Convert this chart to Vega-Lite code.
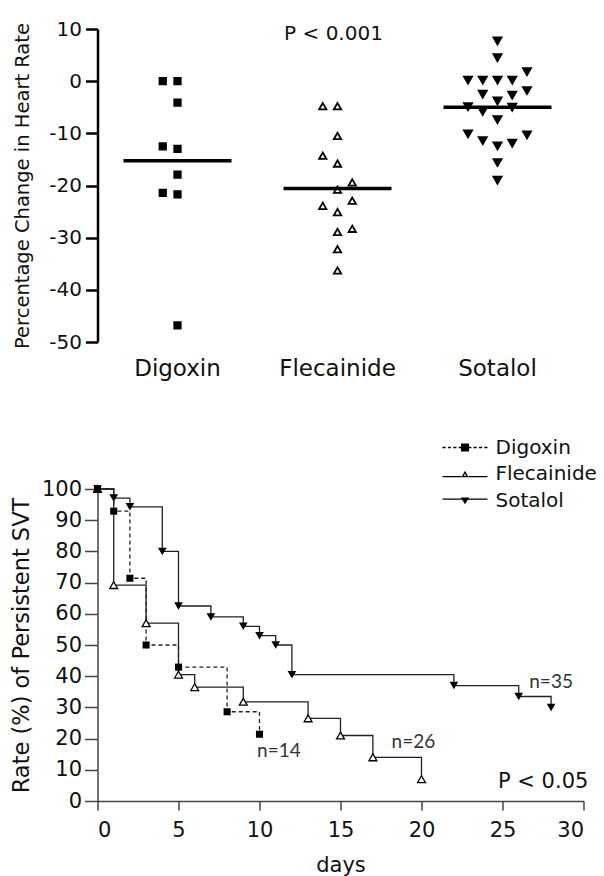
{
  "$schema": "https://vega.github.io/schema/vega-lite/v6.json",
  "background": "white",
  "padding": {"left": 9.5, "top": 19, "right": 5, "bottom": 5},
  "bounds": "flush",
  "spacing": 147,
  "resolve": {
    "scale": {"shape": "independent", "fill": "independent", "size": "independent", "strokeDash": "independent"},
    "legend": {"shape": "independent", "fill": "independent", "size": "independent", "strokeDash": "independent"}
  },
  "config": {
    "view": {"stroke": null},
    "font": "DejaVu Sans",
    "axis": {"grid": false, "labelOverlap": false, "titleFontWeight": "normal", "labelColor": "#111", "titleColor": "#111", "labelFont": "DejaVu Sans", "titleFont": "DejaVu Sans"}
  },
  "datasets": {
    "hr": [
      {"drug": "Digoxin", "col": -1, "change": 0},
      {"drug": "Digoxin", "col": 0, "change": 0},
      {"drug": "Digoxin", "col": 0, "change": -4.1},
      {"drug": "Digoxin", "col": -1, "change": -12.5},
      {"drug": "Digoxin", "col": 0, "change": -13},
      {"drug": "Digoxin", "col": 0, "change": -17.9},
      {"drug": "Digoxin", "col": -1, "change": -21.4},
      {"drug": "Digoxin", "col": 0, "change": -21.7},
      {"drug": "Digoxin", "col": 0, "change": -46.8},
      {"drug": "Flecainide", "col": -1, "change": -4.8},
      {"drug": "Flecainide", "col": 0, "change": -4.8},
      {"drug": "Flecainide", "col": 0, "change": -10.5},
      {"drug": "Flecainide", "col": -1, "change": -14.3},
      {"drug": "Flecainide", "col": 0, "change": -15.8},
      {"drug": "Flecainide", "col": 1, "change": -19.4},
      {"drug": "Flecainide", "col": 0, "change": -20.8},
      {"drug": "Flecainide", "col": 1, "change": -22.9},
      {"drug": "Flecainide", "col": -1, "change": -23.9},
      {"drug": "Flecainide", "col": 0, "change": -25.1},
      {"drug": "Flecainide", "col": 1, "change": -28.3},
      {"drug": "Flecainide", "col": 0, "change": -28.9},
      {"drug": "Flecainide", "col": 0, "change": -32.2},
      {"drug": "Flecainide", "col": 0, "change": -36.3},
      {"drug": "Sotalol", "col": 0, "change": 7.7},
      {"drug": "Sotalol", "col": 0, "change": 4.5},
      {"drug": "Sotalol", "col": 2, "change": 1.8},
      {"drug": "Sotalol", "col": -2, "change": 0.2},
      {"drug": "Sotalol", "col": -1, "change": 0.2},
      {"drug": "Sotalol", "col": 0, "change": 0.2},
      {"drug": "Sotalol", "col": 1, "change": 0.2},
      {"drug": "Sotalol", "col": 2, "change": -1.8},
      {"drug": "Sotalol", "col": -1, "change": -2.5},
      {"drug": "Sotalol", "col": 1, "change": -2.7},
      {"drug": "Sotalol", "col": 0, "change": -3.8},
      {"drug": "Sotalol", "col": -2, "change": -4.9},
      {"drug": "Sotalol", "col": -1, "change": -5.8},
      {"drug": "Sotalol", "col": 1, "change": -5.0},
      {"drug": "Sotalol", "col": 0, "change": -7.4},
      {"drug": "Sotalol", "col": -2, "change": -10.1},
      {"drug": "Sotalol", "col": 2, "change": -10.3},
      {"drug": "Sotalol", "col": -1, "change": -11.4},
      {"drug": "Sotalol", "col": 1, "change": -11.9},
      {"drug": "Sotalol", "col": 0, "change": -12.4},
      {"drug": "Sotalol", "col": 0, "change": -15.6},
      {"drug": "Sotalol", "col": 0, "change": -19.0}
    ],
    "km": [
      {"drug": "Digoxin", "day": 0, "rate": 100},
      {"drug": "Digoxin", "day": 1, "rate": 92.9},
      {"drug": "Digoxin", "day": 2, "rate": 71.4},
      {"drug": "Digoxin", "day": 3, "rate": 50},
      {"drug": "Digoxin", "day": 5, "rate": 42.9},
      {"drug": "Digoxin", "day": 8, "rate": 28.6},
      {"drug": "Digoxin", "day": 10, "rate": 21.4},
      {"drug": "Flecainide", "day": 0, "rate": 100},
      {"drug": "Flecainide", "day": 1, "rate": 69.2},
      {"drug": "Flecainide", "day": 3, "rate": 57},
      {"drug": "Flecainide", "day": 5, "rate": 40.5},
      {"drug": "Flecainide", "day": 6, "rate": 36.5},
      {"drug": "Flecainide", "day": 9, "rate": 31.8},
      {"drug": "Flecainide", "day": 13, "rate": 26.5},
      {"drug": "Flecainide", "day": 15, "rate": 21},
      {"drug": "Flecainide", "day": 17, "rate": 14},
      {"drug": "Flecainide", "day": 20, "rate": 7},
      {"drug": "Sotalol", "day": 0, "rate": 100},
      {"drug": "Sotalol", "day": 1, "rate": 97.1},
      {"drug": "Sotalol", "day": 2, "rate": 94.3},
      {"drug": "Sotalol", "day": 4, "rate": 80},
      {"drug": "Sotalol", "day": 5, "rate": 62.5},
      {"drug": "Sotalol", "day": 7, "rate": 59},
      {"drug": "Sotalol", "day": 9, "rate": 56},
      {"drug": "Sotalol", "day": 10, "rate": 53},
      {"drug": "Sotalol", "day": 11, "rate": 50},
      {"drug": "Sotalol", "day": 12, "rate": 40.5},
      {"drug": "Sotalol", "day": 22, "rate": 37},
      {"drug": "Sotalol", "day": 26, "rate": 33.5},
      {"drug": "Sotalol", "day": 28, "rate": 30}
    ]
  },
  "vconcat": [
    {
      "width": 480,
      "height": 313,
      "data": {"name": "hr"},
      "layer": [
        {
          "mark": {"type": "point", "filled": true, "stroke": "black", "strokeWidth": 1.8, "opacity": 1},
          "encoding": {
            "x": {"field": "drug", "type": "nominal", "sort": ["Digoxin", "Flecainide", "Sotalol"], "scale": {"paddingInner": 0, "paddingOuter": 0},
                  "axis": {"title": null, "domain": false, "ticks": false, "labelAngle": 0, "labelFontSize": 23, "labelPadding": 15}},
            "xOffset": {"field": "col", "type": "quantitative", "scale": {"domain": [-2, 2], "range": [50.5, 109.5]}},
            "y": {"field": "change", "type": "quantitative", "scale": {"domain": [-50, 10], "nice": false},
                  "axis": {"title": "Percentage Change in Heart Rate", "values": [-50, -40, -30, -20, -10, 0, 10], "labelExpr": "'' + datum.value",
                           "domainColor": "black", "domainWidth": 2.5, "tickColor": "black", "tickWidth": 2.5, "tickSize": 12,
                           "labelFontSize": 20, "labelPadding": 4, "titleFontSize": 19.5, "titlePadding": 16}},
            "shape": {"field": "drug", "type": "nominal", "scale": {"domain": ["Digoxin", "Flecainide", "Sotalol"], "range": ["square", "triangle-up", "triangle-down"]}, "legend": null},
            "fill": {"field": "drug", "type": "nominal", "scale": {"domain": ["Digoxin", "Flecainide", "Sotalol"], "range": ["black", "white", "black"]}, "legend": null},
            "size": {"field": "drug", "type": "nominal", "scale": {"domain": ["Digoxin", "Flecainide", "Sotalol"], "range": [42, 66, 52]}, "legend": null}
          }
        },
        {
          "mark": {"type": "tick", "size": 108, "thickness": 3.5, "color": "black", "opacity": 1},
          "encoding": {
            "x": {"field": "drug", "type": "nominal", "sort": ["Digoxin", "Flecainide", "Sotalol"]},
            "y": {"aggregate": "mean", "field": "change", "type": "quantitative"}
          }
        },
        {
          "data": {"values": [{"note": "P < 0.001"}]},
          "mark": {"type": "text", "fontSize": 20, "color": "#111", "dx": -4},
          "encoding": {
            "x": {"datum": "Flecainide"},
            "y": {"datum": 9},
            "text": {"field": "note"}
          }
        }
      ]
    },
    {
      "width": 486,
      "height": 312,
      "layer": [
        {
          "data": {"name": "km"},
          "transform": [{"filter": "datum.drug !== 'Digoxin'"}],
          "mark": {"type": "line", "interpolate": "step-after", "color": "#222", "strokeWidth": 1.3},
          "encoding": {
            "x": {"field": "day", "type": "quantitative", "scale": {"domain": [0, 30], "nice": false},
                  "axis": {"title": "days", "values": [0, 5, 10, 15, 20, 25, 30], "domainColor": "#444", "domainWidth": 1.5, "tickColor": "#444", "tickWidth": 1.5, "tickSize": 9, "labelFontSize": 21, "labelPadding": 9, "titleFontSize": 21, "titlePadding": 14}},
            "y": {"field": "rate", "type": "quantitative", "scale": {"domain": [0, 100], "nice": false},
                  "axis": {"title": "Rate (%) of Persistent SVT", "values": [0, 10, 20, 30, 40, 50, 60, 70, 80, 90, 100], "domainColor": "#444", "domainWidth": 1.5, "tickColor": "#444", "tickWidth": 1.5, "tickSize": 13, "labelFontSize": 21, "labelPadding": 3, "titleFontSize": 22.5, "titlePadding": 8}},
            "detail": {"field": "drug", "type": "nominal"}
          }
        },
        {
          "data": {"name": "km"},
          "transform": [{"filter": "datum.drug === 'Digoxin'"}],
          "mark": {"type": "line", "interpolate": "step-after", "color": "#222", "strokeWidth": 1.3, "strokeDash": [4, 3]},
          "encoding": {
            "x": {"field": "day", "type": "quantitative", "scale": {"domain": [0, 30], "nice": false},
                  "axis": {"title": "days", "values": [0, 5, 10, 15, 20, 25, 30], "domainColor": "#444", "domainWidth": 1.5, "tickColor": "#444", "tickWidth": 1.5, "tickSize": 9, "labelFontSize": 21, "labelPadding": 9, "titleFontSize": 21, "titlePadding": 14}},
            "y": {"field": "rate", "type": "quantitative", "scale": {"domain": [0, 100], "nice": false},
                  "axis": {"title": "Rate (%) of Persistent SVT", "values": [0, 10, 20, 30, 40, 50, 60, 70, 80, 90, 100], "domainColor": "#444", "domainWidth": 1.5, "tickColor": "#444", "tickWidth": 1.5, "tickSize": 13, "labelFontSize": 21, "labelPadding": 3, "titleFontSize": 22.5, "titlePadding": 8}}
          }
        },
        {
          "data": {"name": "km"},
          "transform": [{"filter": "datum.drug === 'Sotalol'"}],
          "mark": {"type": "point", "shape": "triangle-down", "filled": true, "color": "black", "size": 75, "opacity": 1},
          "encoding": {
            "x": {"field": "day", "type": "quantitative", "scale": {"domain": [0, 30], "nice": false},
                  "axis": {"title": "days", "values": [0, 5, 10, 15, 20, 25, 30], "domainColor": "#444", "domainWidth": 1.5, "tickColor": "#444", "tickWidth": 1.5, "tickSize": 9, "labelFontSize": 21, "labelPadding": 9, "titleFontSize": 21, "titlePadding": 14}},
            "y": {"field": "rate", "type": "quantitative", "scale": {"domain": [0, 100], "nice": false},
                  "axis": {"title": "Rate (%) of Persistent SVT", "values": [0, 10, 20, 30, 40, 50, 60, 70, 80, 90, 100], "domainColor": "#444", "domainWidth": 1.5, "tickColor": "#444", "tickWidth": 1.5, "tickSize": 13, "labelFontSize": 21, "labelPadding": 3, "titleFontSize": 22.5, "titlePadding": 8}}
          }
        },
        {
          "data": {"name": "km"},
          "transform": [{"filter": "datum.drug === 'Flecainide'"}],
          "mark": {"type": "point", "shape": "triangle-up", "filled": true, "fill": "white", "stroke": "black", "strokeWidth": 1.3, "size": 62, "opacity": 1},
          "encoding": {
            "x": {"field": "day", "type": "quantitative", "scale": {"domain": [0, 30], "nice": false},
                  "axis": {"title": "days", "values": [0, 5, 10, 15, 20, 25, 30], "domainColor": "#444", "domainWidth": 1.5, "tickColor": "#444", "tickWidth": 1.5, "tickSize": 9, "labelFontSize": 21, "labelPadding": 9, "titleFontSize": 21, "titlePadding": 14}},
            "y": {"field": "rate", "type": "quantitative", "scale": {"domain": [0, 100], "nice": false},
                  "axis": {"title": "Rate (%) of Persistent SVT", "values": [0, 10, 20, 30, 40, 50, 60, 70, 80, 90, 100], "domainColor": "#444", "domainWidth": 1.5, "tickColor": "#444", "tickWidth": 1.5, "tickSize": 13, "labelFontSize": 21, "labelPadding": 3, "titleFontSize": 22.5, "titlePadding": 8}}
          }
        },
        {
          "data": {"name": "km"},
          "transform": [{"filter": "datum.drug === 'Digoxin'"}],
          "mark": {"type": "point", "shape": "square", "filled": true, "color": "black", "size": 50, "opacity": 1},
          "encoding": {
            "x": {"field": "day", "type": "quantitative", "scale": {"domain": [0, 30], "nice": false},
                  "axis": {"title": "days", "values": [0, 5, 10, 15, 20, 25, 30], "domainColor": "#444", "domainWidth": 1.5, "tickColor": "#444", "tickWidth": 1.5, "tickSize": 9, "labelFontSize": 21, "labelPadding": 9, "titleFontSize": 21, "titlePadding": 14}},
            "y": {"field": "rate", "type": "quantitative", "scale": {"domain": [0, 100], "nice": false},
                  "axis": {"title": "Rate (%) of Persistent SVT", "values": [0, 10, 20, 30, 40, 50, 60, 70, 80, 90, 100], "domainColor": "#444", "domainWidth": 1.5, "tickColor": "#444", "tickWidth": 1.5, "tickSize": 13, "labelFontSize": 21, "labelPadding": 3, "titleFontSize": 22.5, "titlePadding": 8}}
          }
        },
        {
          "data": {"values": [{"note": "n=14"}]},
          "mark": {"type": "text", "font": "Lato", "fontSize": 19, "color": "#333"},
          "encoding": {
            "x": {"datum": 11.2, "type": "quantitative", "scale": {"domain": [0, 30], "nice": false},
                  "axis": {"title": "days", "values": [0, 5, 10, 15, 20, 25, 30], "domainColor": "#444", "domainWidth": 1.5, "tickColor": "#444", "tickWidth": 1.5, "tickSize": 9, "labelFontSize": 21, "labelPadding": 9, "titleFontSize": 21, "titlePadding": 14}},
            "y": {"datum": 16, "type": "quantitative", "scale": {"domain": [0, 100], "nice": false},
                  "axis": {"title": "Rate (%) of Persistent SVT", "values": [0, 10, 20, 30, 40, 50, 60, 70, 80, 90, 100], "domainColor": "#444", "domainWidth": 1.5, "tickColor": "#444", "tickWidth": 1.5, "tickSize": 13, "labelFontSize": 21, "labelPadding": 3, "titleFontSize": 22.5, "titlePadding": 8}},
            "text": {"field": "note", "type": "nominal"}
          }
        },
        {
          "data": {"values": [{"note": "n=26"}]},
          "mark": {"type": "text", "font": "Lato", "fontSize": 19, "color": "#333"},
          "encoding": {
            "x": {"datum": 19.5, "type": "quantitative", "scale": {"domain": [0, 30], "nice": false},
                  "axis": {"title": "days", "values": [0, 5, 10, 15, 20, 25, 30], "domainColor": "#444", "domainWidth": 1.5, "tickColor": "#444", "tickWidth": 1.5, "tickSize": 9, "labelFontSize": 21, "labelPadding": 9, "titleFontSize": 21, "titlePadding": 14}},
            "y": {"datum": 19, "type": "quantitative", "scale": {"domain": [0, 100], "nice": false},
                  "axis": {"title": "Rate (%) of Persistent SVT", "values": [0, 10, 20, 30, 40, 50, 60, 70, 80, 90, 100], "domainColor": "#444", "domainWidth": 1.5, "tickColor": "#444", "tickWidth": 1.5, "tickSize": 13, "labelFontSize": 21, "labelPadding": 3, "titleFontSize": 22.5, "titlePadding": 8}},
            "text": {"field": "note", "type": "nominal"}
          }
        },
        {
          "data": {"values": [{"note": "n=35"}]},
          "mark": {"type": "text", "font": "Lato", "fontSize": 19, "color": "#333"},
          "encoding": {
            "x": {"datum": 28, "type": "quantitative", "scale": {"domain": [0, 30], "nice": false},
                  "axis": {"title": "days", "values": [0, 5, 10, 15, 20, 25, 30], "domainColor": "#444", "domainWidth": 1.5, "tickColor": "#444", "tickWidth": 1.5, "tickSize": 9, "labelFontSize": 21, "labelPadding": 9, "titleFontSize": 21, "titlePadding": 14}},
            "y": {"datum": 38, "type": "quantitative", "scale": {"domain": [0, 100], "nice": false},
                  "axis": {"title": "Rate (%) of Persistent SVT", "values": [0, 10, 20, 30, 40, 50, 60, 70, 80, 90, 100], "domainColor": "#444", "domainWidth": 1.5, "tickColor": "#444", "tickWidth": 1.5, "tickSize": 13, "labelFontSize": 21, "labelPadding": 3, "titleFontSize": 22.5, "titlePadding": 8}},
            "text": {"field": "note", "type": "nominal"}
          }
        },
        {
          "data": {"values": [{"note": "P < 0.05"}]},
          "mark": {"type": "text", "fontSize": 21, "color": "#111", "align": "right"},
          "encoding": {
            "x": {"datum": 30.3, "type": "quantitative", "scale": {"domain": [0, 30], "nice": false},
                  "axis": {"title": "days", "values": [0, 5, 10, 15, 20, 25, 30], "domainColor": "#444", "domainWidth": 1.5, "tickColor": "#444", "tickWidth": 1.5, "tickSize": 9, "labelFontSize": 21, "labelPadding": 9, "titleFontSize": 21, "titlePadding": 14}},
            "y": {"datum": 6, "type": "quantitative", "scale": {"domain": [0, 100], "nice": false},
                  "axis": {"title": "Rate (%) of Persistent SVT", "values": [0, 10, 20, 30, 40, 50, 60, 70, 80, 90, 100], "domainColor": "#444", "domainWidth": 1.5, "tickColor": "#444", "tickWidth": 1.5, "tickSize": 13, "labelFontSize": 21, "labelPadding": 3, "titleFontSize": 22.5, "titlePadding": 8}},
            "text": {"field": "note", "type": "nominal"}
          }
        },
        {
          "data": {"name": "km"},
          "transform": [{"filter": "datum.day === 0"}],
          "mark": {"type": "point", "filled": true, "color": "black", "opacity": 0},
          "encoding": {
            "x": {"field": "day", "type": "quantitative", "scale": {"domain": [0, 30], "nice": false},
                  "axis": {"title": "days", "values": [0, 5, 10, 15, 20, 25, 30], "domainColor": "#444", "domainWidth": 1.5, "tickColor": "#444", "tickWidth": 1.5, "tickSize": 9, "labelFontSize": 21, "labelPadding": 9, "titleFontSize": 21, "titlePadding": 14}},
            "y": {"field": "rate", "type": "quantitative", "scale": {"domain": [0, 100], "nice": false},
                  "axis": {"title": "Rate (%) of Persistent SVT", "values": [0, 10, 20, 30, 40, 50, 60, 70, 80, 90, 100], "domainColor": "#444", "domainWidth": 1.5, "tickColor": "#444", "tickWidth": 1.5, "tickSize": 13, "labelFontSize": 21, "labelPadding": 3, "titleFontSize": 22.5, "titlePadding": 8}},
            "shape": {"field": "drug", "type": "nominal",
                      "scale": {"domain": ["Digoxin", "Flecainide", "Sotalol"],
                                "range": ["M-5,-0.15H-4.3V0.15H-5ZM-3.8,-0.15H-3.1V0.15H-3.8ZM-2.6,-0.15H-1.9V0.15H-2.6ZM-1.4,-0.15H-0.9V0.15H-1.4ZM0.9,-0.15H1.4V0.15H0.9ZM1.9,-0.15H2.6V0.15H1.9ZM3.1,-0.15H3.8V0.15H3.1ZM4.3,-0.15H5V0.15H4.3ZM-0.9,-0.9H0.9V0.9H-0.9Z",
                                          "M-5,0.42H-0.8V0.7H-5ZM0.8,0.42H5V0.7H0.8ZM0,-0.75L0.8,0.7H-0.8ZM0,-0.13L-0.29,0.4H0.29Z",
                                          "M-5,-0.45H5V-0.15H-5ZM-0.95,-0.65H0.95L0,0.85Z"]},
                      "legend": {"title": null, "orient": "none", "legendX": 357.5, "legendY": -51.5, "symbolSize": 81, "symbolStrokeWidth": 0, "symbolOpacity": 1, "symbolFillColor": "black", "labelFontSize": 20, "labelFont": "DejaVu Sans", "labelColor": "#111", "labelOffset": 20.5, "rowPadding": 6.5, "padding": 0}}
          }
        }
      ]
    }
  ]
}
